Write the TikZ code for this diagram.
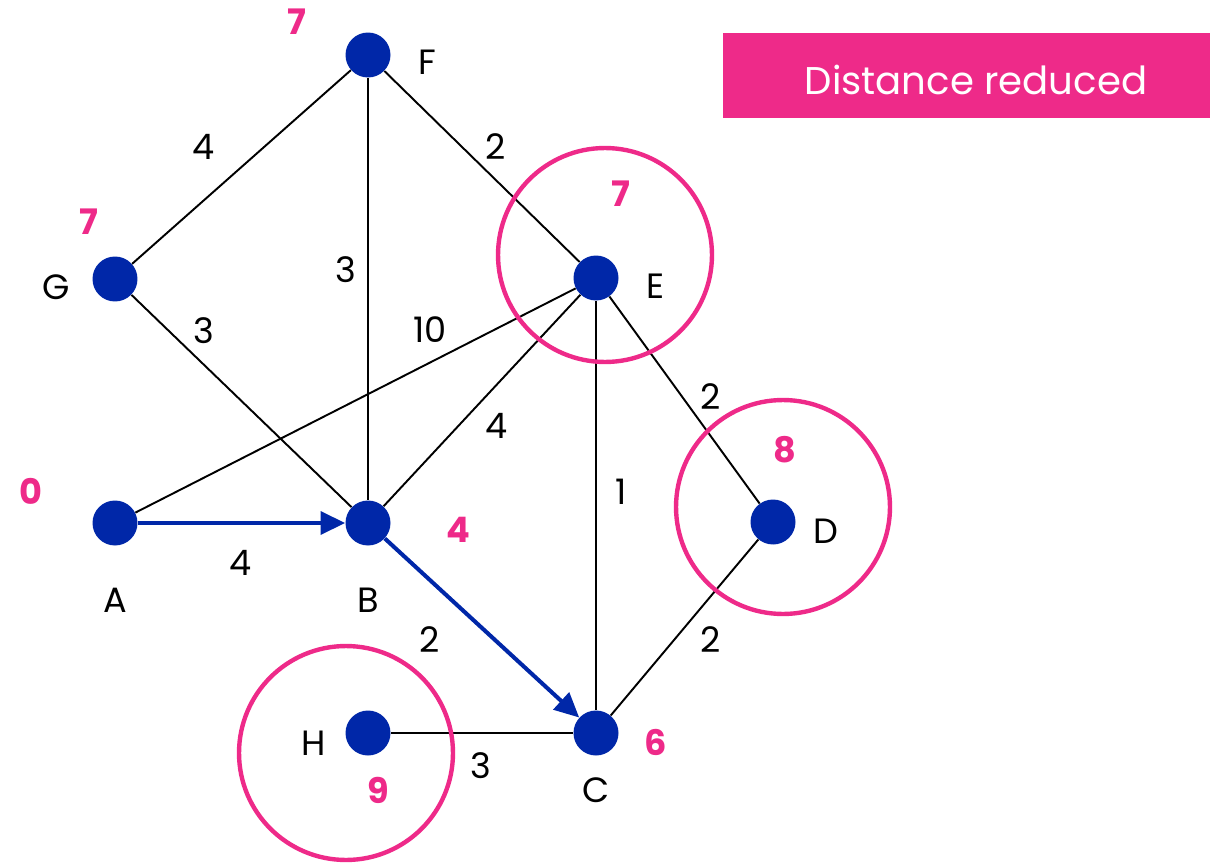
\documentclass[tikz,border=0pt]{standalone}
\usepackage{fontspec}
\setmainfont{Poppins}
\usepackage{xcolor}
\usetikzlibrary{arrows.meta,positioning}

\definecolor{dotblue}{HTML}{0027A8}
\definecolor{hotpink}{HTML}{EE2A89}

\begin{document}
\begin{tikzpicture}[
    x=0.02cm, y=-0.02cm,
    vertex/.style={circle, fill=dotblue, minimum size=0.9cm, inner sep=0pt},
    vname/.style={font=\fontsize{20}{24}\selectfont, text=black},
    dist/.style={font=\fontsize{20}{24}\selectfont\bfseries, text=hotpink},
    weight/.style={font=\fontsize{20}{24}\selectfont, text=black},
    link/.style={draw=black, line width=1.1pt},
    route/.style={draw=dotblue, line width=2.3pt, -{Triangle[length=14pt, width=13pt]}},
    ring/.style={draw=hotpink, line width=2.5pt}
]
    \useasboundingbox (0,0) rectangle (1210,865);

    % vertices
    \node[vertex] (F) at (368,55) {};
    \node[vertex] (G) at (115,279) {};
    \node[vertex] (E) at (596,278) {};
    \node[vertex] (A) at (115,523) {};
    \node[vertex] (B) at (368,523) {};
    \node[vertex] (D) at (773,522) {};
    \node[vertex] (H) at (368,733) {};
    \node[vertex] (C) at (596,733) {};

    % vertex names
    \node[vname] (nF) at (427,62) {F};
    \node[vname] (nG) at (56,287) {G};
    \node[vname] (nE) at (656,286) {E};
    \node[vname] (nA) at (115,600) {A};
    \node[vname] (nB) at (368,600) {B};
    \node[vname] (nD) at (826,531) {D};
    \node[vname] (nH) at (314,743) {H};
    \node[vname] (nC) at (596,790) {C};

    % distances
    \node[dist] (dF) at (297,22) {7};
    \node[dist] (dG) at (89,222) {7};
    \node[dist] (dE) at (621,194) {7};
    \node[dist] (dA) at (31,491) {0};
    \node[dist] (dB) at (458,530) {4};
    \node[dist] (dD) at (785,450) {8};
    \node[dist] (dH) at (378,790) {9};
    \node[dist] (dC) at (656,742) {6};

    % edges
    \draw[link] (F) -- (G);
    \draw[link] (F) -- (B);
    \draw[link] (F) -- (E);
    \draw[link] (G) -- (B);
    \draw[link] (A) -- (E);
    \draw[link] (B) -- (E);
    \draw[link] (E) -- (C);
    \draw[link] (E) -- (D);
    \draw[link] (D) -- (C);
    \draw[link] (H) -- (C);
    \draw[route] (A) -- (B);
    \draw[route] (B) -- (C);

    % weights
    \node[weight] (wFG) at (204,147) {4};
    \node[weight] (wFB) at (346,270) {3};
    \node[weight] (wFE) at (496,147) {2};
    \node[weight] (wGB) at (204,331) {3};
    \node[weight] (wAE) at (430,330) {10};
    \node[weight] (wBE) at (497,426) {4};
    \node[weight] (wEC) at (621,492) {1};
    \node[weight] (wED) at (711,397) {2};
    \node[weight] (wDC) at (711,640) {2};
    \node[weight] (wAB) at (241,563) {4};
    \node[weight] (wBC) at (430,640) {2};
    \node[weight] (wHC) at (481,766) {3};

    % reduced
    \draw[ring] (605,255) circle[radius=2.14cm];
    \draw[ring] (783,507) circle[radius=2.14cm];
    \draw[ring] (346,753) circle[radius=2.14cm];

    \node[fill=hotpink, minimum width=9.74cm, minimum height=1.7cm, inner sep=0pt] (key) at (966.5,75.5) {};
    \node[text=white, font=\fontsize{22}{26}\selectfont] (keytext) at (976,80) {Distance reduced};
\end{tikzpicture}
\end{document}
